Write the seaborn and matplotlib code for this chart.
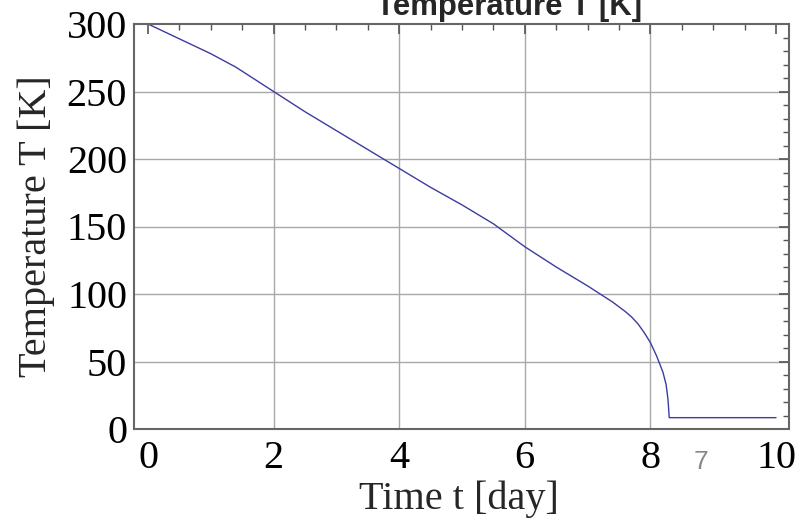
import matplotlib
matplotlib.use("Agg")
import matplotlib.pyplot as plt
import seaborn as sns
import pandas as pd
from matplotlib.ticker import MultipleLocator

# Data
time_day = [0.0, 0.5, 1.0, 1.4, 2.0, 2.5, 3.0, 3.5, 4.0, 4.5, 5.0, 5.5, 6.0,
            6.5, 7.0, 7.2, 7.4, 7.6, 7.7, 7.8, 7.9, 8.0, 8.1, 8.2, 8.25, 8.28,
            8.30, 9.0, 10.0]
temp_K = [300, 289, 278, 268, 250, 235, 221, 207, 193, 179, 166, 152, 135,
          120, 106, 100, 94, 87, 83, 78, 71.5, 64, 54, 42, 33, 22,
          8.4, 8.4, 8.4]

x_ticks = [0, 2, 4, 6, 8, 10]
y_ticks = [0, 50, 100, 150, 200, 250, 300]

df = pd.DataFrame({"t": time_day, "T": temp_K})

sns.set_style("white")
plt.rcParams["font.family"] = ["Liberation Serif", "DejaVu Serif"]

fig = plt.figure(figsize=(7.99, 5.28), dpi=100)
ax = fig.add_axes([134/799, 1 - 429/528, (789-134)/799, (429-24)/528])

sns.lineplot(data=df, x="t", y="T", ax=ax, color="#3c3ca0", linewidth=1.0,
             estimator=None, sort=False)

ax.set_xlim(-0.223, 10.207)
ax.set_ylim(0, 300)
ax.set_xticks(x_ticks)
ax.set_yticks(y_ticks)
ax.xaxis.set_minor_locator(MultipleLocator(0.5))
ax.yaxis.set_minor_locator(MultipleLocator(10))

ax.grid(True, which="major", color="#a8a8a8", linewidth=1.0)
for tick, loc in zip(ax.xaxis.get_major_ticks(), x_ticks):
    if loc in (x_ticks[0], x_ticks[-1]):
        tick.gridline.set_visible(False)
for tick, loc in zip(ax.yaxis.get_major_ticks(), y_ticks):
    if loc in (y_ticks[0], y_ticks[-1]):
        tick.gridline.set_visible(False)

for s in ax.spines.values():
    s.set_color("#666666")
    s.set_linewidth(1.5)

ax.tick_params(which="both", direction="in", top=True, right=True,
               color="#555555", labelsize=29, labelcolor="black")
ax.tick_params(which="major", length=7, width=1.2)
ax.tick_params(axis="x", which="major", pad=8)
ax.tick_params(axis="y", which="major", pad=5)
ax.tick_params(which="minor", length=4, width=1.0)

ax.set_xlabel("Time t [day]", fontsize=29)
ax.xaxis.set_label_coords((459 - 134) / 655, (429 - 480) / 405)
ax.set_ylabel("Temperature T [K]", fontsize=29)
ax.yaxis.set_label_coords((55 - 134) / 655, 0.5)

fig.text(509/799, 1 - 15/528, "Temperature T [K]", ha="center", va="baseline",
         fontsize=22.4, fontweight="bold", family=["Liberation Sans", "DejaVu Sans"])
fig.text(701/799, 1 - 462/528, "7", ha="center", va="center", fontsize=19,
         color="#888888", family=["Liberation Sans", "DejaVu Sans"])

fig.savefig("out.png", dpi=100)
